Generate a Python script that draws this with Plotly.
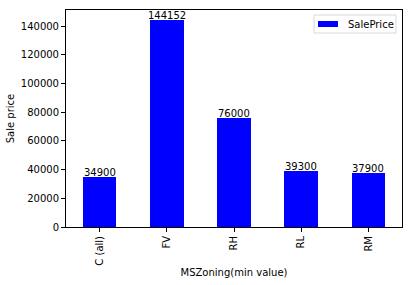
import plotly.graph_objects as go

categories = ["C (all)", "FV", "RH", "RL", "RM"]
min_prices = [34900, 144152, 76000, 39300, 37900]
series_name = "SalePrice"

fig = go.Figure()
fig.add_trace(go.Bar(
    x=list(range(len(categories))), y=min_prices, name=series_name,
    marker=dict(color="#0000ff", line=dict(width=0)), width=0.5,
    showlegend=False,
))

for i, v in enumerate(min_prices):
    fig.add_annotation(x=i, y=v, text=str(v), showarrow=False,
                       yanchor="bottom", xanchor="center",
                       font=dict(size=10, color="black", family="DejaVu Sans"),
                       borderpad=0, yshift=-2)

# manual matplotlib-style legend
W, H = 411, 285
L, R, T, B = 66, 9, 10, 58
pw, ph = W - L - R, H - T - B
def px(x): return (x - L) / pw
def py(y): return (H - B - y) / ph
fig.add_shape(type="rect", xref="paper", yref="paper",
              x0=px(314), x1=px(396), y0=py(33), y1=py(15),
              line=dict(color="#d9d9d9", width=1), fillcolor="white", layer="above")
fig.add_shape(type="rect", xref="paper", yref="paper",
              x0=px(318), x1=px(338), y0=py(27), y1=py(21),
              line=dict(width=0), fillcolor="#0000ff", layer="above")
fig.add_annotation(xref="paper", yref="paper", x=px(346), y=py(24), text=series_name,
                   showarrow=False, xanchor="left", yanchor="middle",
                   font=dict(size=10, color="black", family="DejaVu Sans"))

fig.update_layout(
    width=W, height=H,
    margin=dict(l=L, r=R, t=T, b=B, autoexpand=False),
    plot_bgcolor="white", paper_bgcolor="white",
    font=dict(family="DejaVu Sans", size=10, color="black"),
    bargap=0,
)
fig.update_xaxes(
    range=[-0.5, len(categories) - 0.5],
    tickmode="array", tickvals=list(range(len(categories))), ticktext=categories,
    tickangle=-90, ticks="outside", ticklen=4, tickcolor="black",
    showline=True, linecolor="black", linewidth=1, mirror=True,
    showgrid=False, zeroline=False, automargin=False,
    title=dict(text="MSZoning(min value)", font=dict(size=10), standoff=4),
)
fig.update_yaxes(
    range=[0, max(min_prices) * 1.05],
    tickformat="d", dtick=20000,
    ticks="outside", ticklen=4, tickcolor="black",
    showline=True, linecolor="black", linewidth=1, mirror=True,
    showgrid=False, zeroline=False, automargin=False,
    title=dict(text="Sale price", font=dict(size=10), standoff=4),
)

fig.write_html("out.html")
